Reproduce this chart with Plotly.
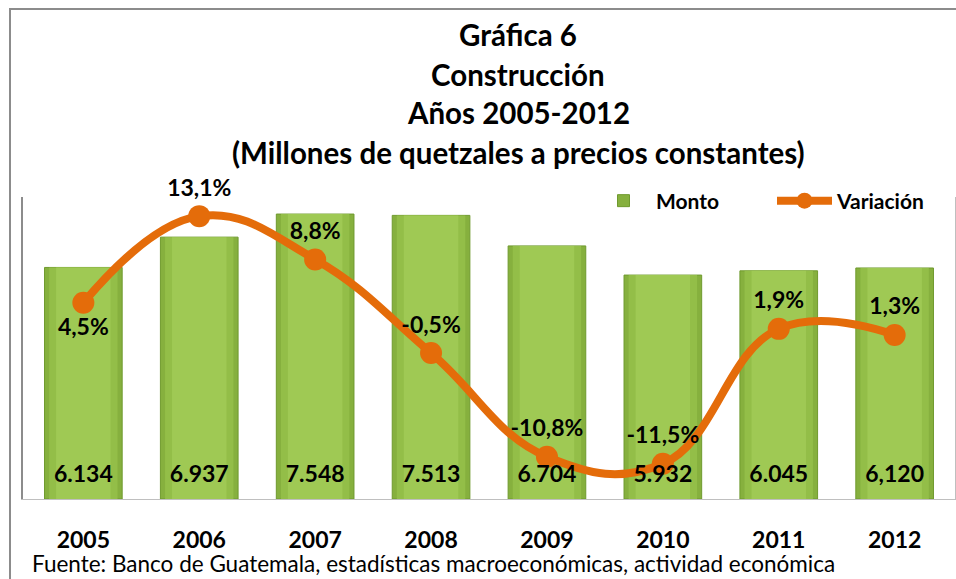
import plotly.graph_objects as go

years = ["2005", "2006", "2007", "2008", "2009", "2010", "2011", "2012"]
monto = [6134, 6937, 7548, 7513, 6704, 5932, 6045, 6120]
monto_labels = ["6.134", "6.937", "7.548", "7.513", "6.704", "5.932", "6.045", "6,120"]
variacion = [4.5, 13.1, 8.8, -0.5, -10.8, -11.5, 1.9, 1.3]
variacion_labels = ["4,5%", "13,1%", "8,8%", "-0,5%", "-10,8%", "-11,5%", "1,9%", "1,3%"]

title_lines = ["Gráfica 6", "Construcción", "Años 2005-2012",
               "(Millones de quetzales a precios constantes)"]
source = "Fuente: Banco de Guatemala, estadísticas macroeconómicas, actividad económica"

FONT = "Lato"
ORANGE = "#E46C0A"
BOLD = {"family": FONT, "size": 23, "color": "black", "weight": "bold"}

# bar body drawn as overlaid layers: darker edges, lighter centre
layers = [(0.67, "#86B03E", "#6F9A2E"), (0.59, "#93BE48", None), (0.47, "#9FC954", None)]
traces = []
for i, (w, col, edge) in enumerate(layers):
    traces.append(go.Bar(
        x=years, y=monto, name="Monto", width=w,
        showlegend=(i == 0), legendgroup="monto",
        marker={"color": col, "line": {"color": edge or col, "width": 1 if edge else 0}},
        hoverinfo="skip" if i else None,
    ))

line = go.Scatter(
    x=years, y=variacion, name="Variación", yaxis="y2",
    mode="lines+markers+text",
    text=variacion_labels,
    textposition=["bottom center"] + ["top center"] * 7,
    textfont=BOLD,
    line={"color": ORANGE, "width": 8, "shape": "spline", "smoothing": 1.2},
    marker={"color": ORANGE, "size": 22},
    cliponaxis=False,
)
traces.append(line)

# amount labels sit near the foot of each bar, drawn above the line (y3 overlay)
traces.append(go.Scatter(
    x=years, y=[0 for _ in monto], text=monto_labels, yaxis="y3",
    mode="markers+text", textposition="top center", textfont=BOLD,
    marker={"size": 16, "color": "rgba(0,0,0,0)"},
    showlegend=False, hoverinfo="skip", cliponaxis=False,
))

fig = go.Figure(traces)

annotations = []
for i, t in enumerate(title_lines):
    annotations.append({
        "text": t, "xref": "paper", "yref": "paper",
        "x": (518 - 23) / 932, "y": (499 - (35 + 39 * i)) / 302,
        "xanchor": "center", "yanchor": "middle", "showarrow": False,
        "font": {"family": FONT, "size": 29.5, "color": "black", "weight": "bold"},
    })
annotations.append({
    "text": source, "xref": "paper", "yref": "paper",
    "x": (30 - 23) / 932, "y": (499 - 563) / 302,
    "xanchor": "left", "yanchor": "middle", "showarrow": False,
    "font": {"family": FONT, "size": 22.5, "color": "black"},
})

fig.update_layout(
    width=956, height=579,
    margin={"l": 23, "r": 1, "t": 197, "b": 80},
    paper_bgcolor="white", plot_bgcolor="white",
    font={"family": FONT, "color": "black"},
    barmode="overlay",
    showlegend=True,
    legend={"orientation": "h", "x": (953 - 23) / 932, "xanchor": "right",
            "y": (499 - 201) / 302, "yanchor": "middle",
            "font": {"family": FONT, "size": 21, "weight": "bold"},
            "bgcolor": "rgba(0,0,0,0)", "itemwidth": 55, "entrywidth": 111},
    xaxis={"showline": True, "linecolor": "#BFBFBF", "linewidth": 1,
           "tickfont": {"family": FONT, "size": 23, "weight": "bold"},
           "ticklabelstandoff": 20, "showgrid": False, "fixedrange": True},
    yaxis={"range": [0, 8000], "showticklabels": False, "showgrid": False,
           "zeroline": False, "showline": True, "linecolor": "#8C8C8C", "linewidth": 2},
    yaxis2={"range": [-15, 15], "overlaying": "y", "side": "right",
            "showticklabels": False, "showgrid": False, "zeroline": False,
            "showline": True, "linecolor": "#BFBFBF", "linewidth": 1},
    yaxis3={"range": [0, 8000], "overlaying": "y", "visible": False},
    annotations=annotations,
    shapes=[{"type": "rect", "xref": "paper", "yref": "paper",
             "x0": (10 - 23) / 932, "x1": 1.01, "y0": -0.4, "y1": (499 - 9) / 302,
             "line": {"color": "#8C8C8C", "width": 2}}],
)

fig.write_html("out.html", config={"displayModeBar": False},
               post_script="document.body.style.margin='0';")
